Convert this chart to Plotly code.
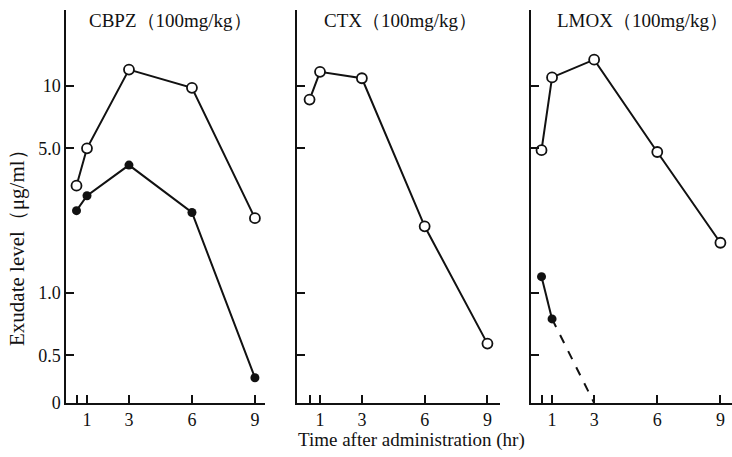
import plotly.graph_objects as go

# Sampling times (hr)
hours = [0.5, 1, 3, 6, 9]

# Exudate levels (ug/ml); open = one series, filled = the other
cbpz_open = [3.3, 5.0, 12.0, 9.8, 2.3]
cbpz_filled = [2.5, 2.95, 4.15, 2.45, 0.39]
ctx_open = [8.6, 11.7, 10.9, 2.1, 0.57]
lmox_open = [4.9, 11.0, 13.4, 4.8, 1.75]
lmox_filled_hours = [0.5, 1]
lmox_filled = [1.2, 0.75]
# below detection: falls to 0 by 3 hr
lmox_drop_hours = [1, 3]
lmox_drop = [0.75, 0]

titles = ["CBPZ（100mg/kg）", "CTX（100mg/kg）", "LMOX（100mg/kg）"]
ytick_vals = [0, 0.5, 1.0, 5.0, 10]
ytick_text = ["0", "0.5", "1.0", "5.0", "10"]
xtick_vals = [0.5, 1, 3, 6, 9]
xtick_text = ["", "1", "3", "6", "9"]

# Log axis floor; a level of 0 is drawn on it
LOG_MIN, LOG_MAX = -0.531, 1.367
ZERO_LEVEL = 10 ** LOG_MIN


def floor_zero(vals):
    return [ZERO_LEVEL if v == 0 else v for v in vals]


FONT = "Liberation Serif"
BLACK = "#111111"

fig = go.Figure()


def open_series(x, y, ax):
    fig.add_trace(go.Scatter(
        x=x, y=y, mode="lines+markers", xaxis=f"x{ax}", yaxis=f"y{ax}",
        line=dict(color=BLACK, width=2),
        marker=dict(symbol="circle", size=10, color="white",
                    line=dict(color=BLACK, width=1.8)),
        showlegend=False, cliponaxis=False))


def filled_series(x, y, ax, dash="solid"):
    fig.add_trace(go.Scatter(
        x=x, y=floor_zero(y), mode="lines+markers" if dash == "solid" else "lines",
        xaxis=f"x{ax}", yaxis=f"y{ax}",
        line=dict(color=BLACK, width=2, dash=dash),
        marker=dict(symbol="circle", size=9, color=BLACK),
        showlegend=False, cliponaxis=False))


open_series(hours, cbpz_open, "")
filled_series(hours, cbpz_filled, "")
open_series(hours, ctx_open, "2")
open_series(hours, lmox_open, "3")
filled_series(lmox_drop_hours, lmox_drop, "3", dash="dash")
filled_series(lmox_filled_hours, lmox_filled, "3")

W, H = 732, 457
x_domains = [[66 / W, 265 / W], [297 / W, 500 / W], [531 / W, 1.0]]
x_ranges = [[0, 9.48], [-0.1, 9.6], [0, 9.55]]
y_domain = [1 - 403 / H, 1 - 10 / H]

axis_common = dict(showline=True, linecolor=BLACK, linewidth=1.5,
                   ticks="inside", ticklen=8, tickwidth=1.5, tickcolor=BLACK,
                   showgrid=False, zeroline=False, automargin=False,
                   tickfont=dict(family=FONT, size=18, color=BLACK))

layout = {}
for i in range(3):
    sfx = "" if i == 0 else str(i + 1)
    layout[f"xaxis{sfx}"] = dict(
        axis_common, domain=x_domains[i], range=x_ranges[i],
        anchor=f"y{sfx}", tickvals=xtick_vals, ticktext=xtick_text)
    layout[f"yaxis{sfx}"] = dict(
        axis_common, domain=y_domain, type="log", range=[LOG_MIN, LOG_MAX],
        anchor=f"x{sfx}",
        tickvals=floor_zero(ytick_vals), ticktext=ytick_text,
        showticklabels=(i == 0))

annotations = []
title_x = [170, 400, 642]
for tx, t in zip(title_x, titles):
    annotations.append(dict(
        text=t, x=tx / W, y=1 - 20 / H, xref="paper", yref="paper",
        xanchor="center", yanchor="middle",
        showarrow=False, font=dict(family=FONT, size=19, color=BLACK)))
annotations.append(dict(
    text="Time after administration (hr)", x=411 / W, y=1 - 440 / H,
    xref="paper", yref="paper", xanchor="center", yanchor="middle",
    showarrow=False, font=dict(family=FONT, size=19, color=BLACK)))
annotations.append(dict(
    text="Exudate level（μg/ml）", x=17 / W, y=1 - 243 / H,
    xref="paper", yref="paper", xanchor="center", yanchor="middle",
    showarrow=False, textangle=-90,
    font=dict(family=FONT, size=21, color=BLACK)))

fig.update_layout(
    template="none",
    width=W, height=H, margin=dict(l=0, r=0, t=0, b=0, pad=0),
    paper_bgcolor="white", plot_bgcolor="white",
    annotations=annotations, **layout)

fig.write_html("out.html")
